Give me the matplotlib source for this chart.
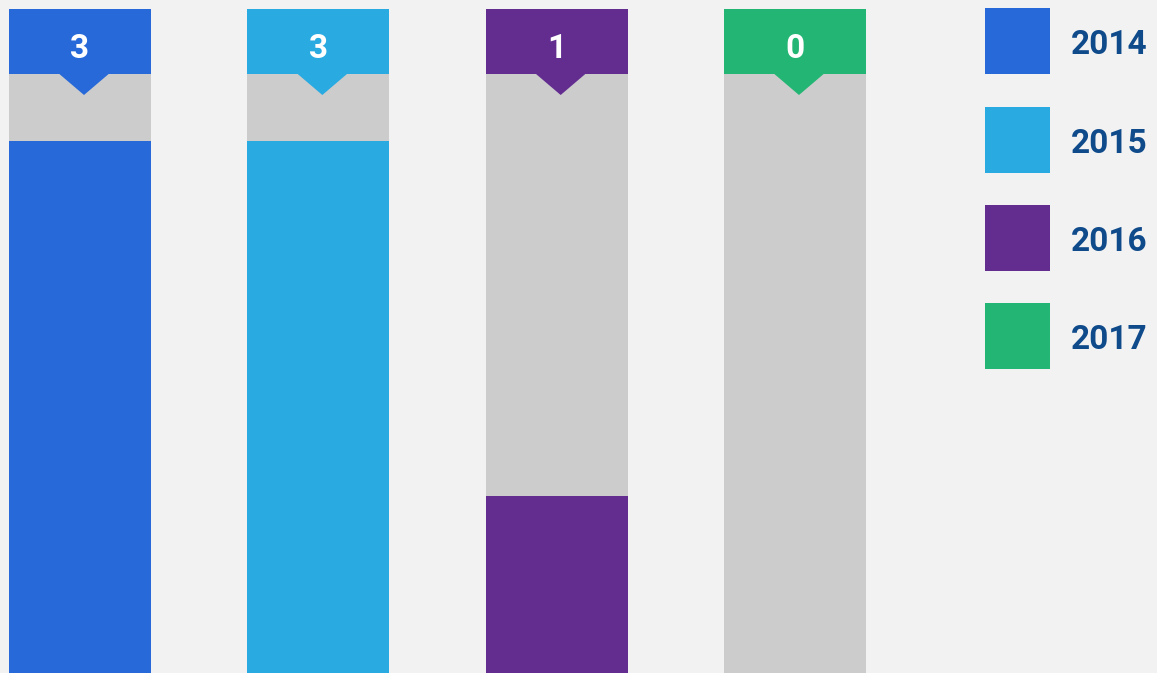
import matplotlib
matplotlib.use("Agg")
import matplotlib.pyplot as plt
from matplotlib.patches import Rectangle, Polygon
import matplotlib.transforms as mtransforms

years = ["2014", "2015", "2016", "2017"]
values = [3, 3, 1, 0]
colors = ["#2769d9", "#29aae1", "#622d8f", "#23b573"]
vmax = 3.38

W, H = 1157, 673
bg = "#f2f2f2"
gray = "#cccccc"
txtblue = "#0f4a8a"
font = "Roboto"

fig = plt.figure(figsize=(W / 100, H / 100), dpi=100, facecolor=bg)
ax = fig.add_axes([0, 0, 1, 1 - 74 / H])
ax.set_facecolor(bg)
spacing = 238.33
x = list(range(len(years)))
bw = 142 / spacing
left = -80 / spacing
ax.set_xlim(left, left + W / spacing)
ax.set_ylim(0, vmax)
ax.axis("off")

ax.bar(x, [vmax] * len(x), width=bw, color=gray, linewidth=0)
ax.bar(x, values, width=bw, color=colors, linewidth=0)

trans = mtransforms.blended_transform_factory(ax.transData, ax.transAxes)
plot_h = H - 74
head_h = 65 / plot_h
notch_h = 21 / plot_h
notch_w = 25 / spacing
notch_off = 4 / spacing
for xi, v, c in zip(x, values, colors):
    ax.add_patch(Rectangle((xi - bw / 2, 1), bw, head_h, transform=trans,
                           facecolor=c, edgecolor="none", clip_on=False))
    nx = xi + notch_off
    ax.add_patch(Polygon([(nx - notch_w, 1.0005), (nx + notch_w, 1.0005), (nx, 1 - notch_h)],
                         closed=True, transform=trans, facecolor=c,
                         edgecolor="none", clip_on=False))
    ax.text(xi, 1 + (74 - 58) / plot_h, str(v), transform=trans, ha="center",
            va="baseline", color="white", fontsize=24, fontweight="bold",
            family=font, clip_on=False)

# legend
tops = [8, 107, 205, 303]
for i, (yr, c) in enumerate(zip(years, colors)):
    top = tops[i]
    fig.patches.append(Rectangle((985 / W, 1 - (top + 66) / H), 65 / W, 66 / H,
                                 transform=fig.transFigure, facecolor=c,
                                 edgecolor="none"))
    fig.text(1071 / W, 1 - (top + 46) / H, yr, ha="left", va="baseline",
             color=txtblue, fontsize=24, fontweight="bold", family=font)

fig.savefig("out.png", dpi=100, facecolor=bg)
